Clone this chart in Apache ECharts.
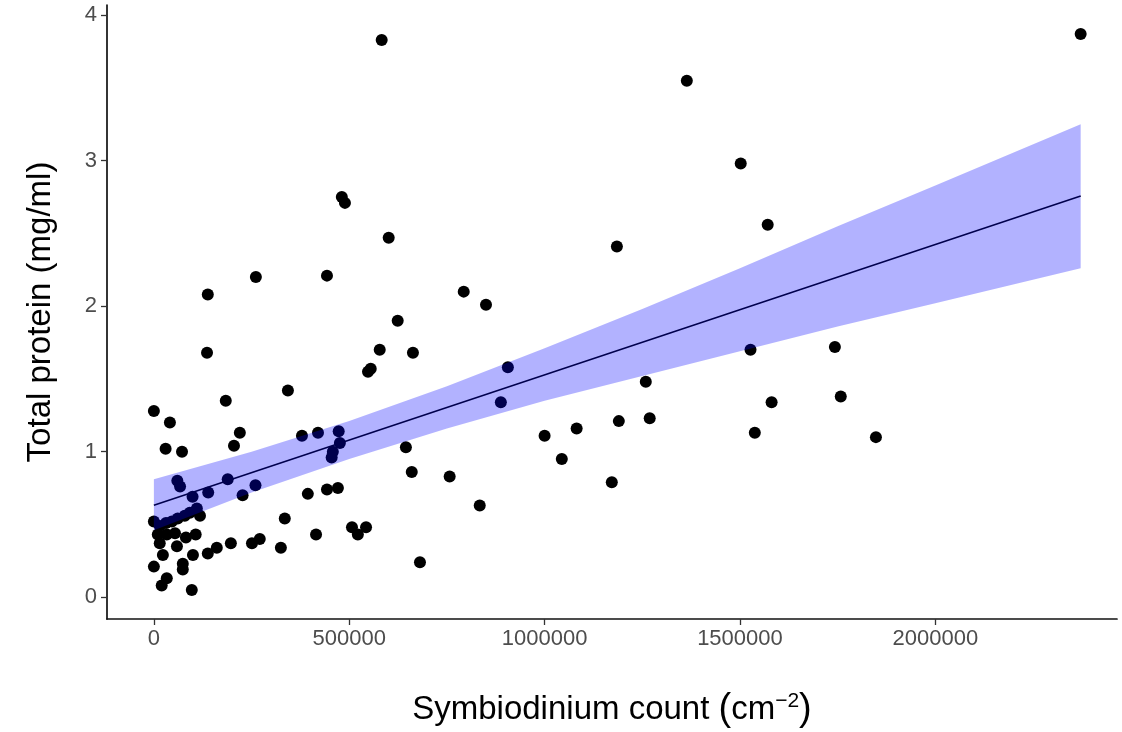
<!DOCTYPE html>
<html>
<head>
<meta charset="utf-8">
<title>Total protein vs Symbiodinium count</title>
<script src="https://cdn.jsdelivr.net/npm/echarts@6/dist/echarts.min.js"></script>
<style>
  html, body { margin: 0; padding: 0; background: #ffffff; }
  #chart { width: 1122px; height: 732px; }
</style>
</head>
<body>
<div id="chart"></div>
<script>
// Symbiodinium density (cells per cm^2) and total protein (mg/ml) per sample
const symbiodiniumCount = [
  0, 41000, 184000, 30000, 72000, 205000, 220000, 60000, 67000, 99000,
  139000, 189000, 227000, 260000, 0, 15000, 31000, 46000, 61000, 79000,
  92000, 110000, 118000, 10000, 33000, 54000, 15000, 59000, 82000, 107000,
  23000, 74000, 74000, 100000, 138000, 161000, 197000, 251000, 271000, 0,
  33000, 20000, 97000, 335000, 325000,
  138000, 136000, 261000, 443000, 601000, 481000, 489000, 583000,
  793000, 850000, 624000, 578000, 663000, 548000, 555000, 343000,
  379000, 420000, 473000, 476000, 458000, 455000, 645000, 660000, 757000, 834000, 681000,
  394000, 443000, 471000, 415000, 507000, 543000, 522000,
  906000, 888000,
  1185000, 1571000, 1527000, 1259000, 1000000, 1082000, 1044000, 1190000, 1269000, 1172000,
  1581000, 1538000, 1743000, 1758000, 1848000, 1364000, 1502000, 2372000
];
const totalProtein = [
  1.28, 1.20, 1.35, 1.02, 1.00, 1.04, 1.13, 0.80, 0.76, 0.69,
  0.72, 0.81, 0.70, 0.77, 0.52, 0.49, 0.51, 0.52, 0.54, 0.56,
  0.58, 0.61, 0.56, 0.43, 0.43, 0.44, 0.37, 0.35, 0.41, 0.43,
  0.29, 0.23, 0.19, 0.29, 0.30, 0.34, 0.37, 0.37, 0.40, 0.21,
  0.13, 0.08, 0.05, 0.54, 0.34,
  2.08, 1.68, 2.20, 2.21, 2.47, 2.75, 2.71, 3.83,
  2.10, 2.01, 1.90, 1.70, 1.68, 1.55, 1.57, 1.42,
  1.11, 1.13, 1.14, 1.06, 1.00, 0.96, 1.03, 0.86, 0.83, 0.63, 0.24,
  0.71, 0.74, 0.75, 0.43, 0.48, 0.48, 0.43,
  1.58, 1.34,
  2.41, 2.56, 1.70, 1.48, 1.11, 1.16, 0.95, 1.21, 1.23, 0.79,
  1.34, 1.13, 1.72, 1.38, 1.10, 3.55, 2.98, 3.87
];

// Linear fit (end points) and its confidence band
const fitX = [0, 2372000];
const fitY = [0.632, 2.757];
const bandX = [0, 250000, 500000, 750000, 1000000, 1250000, 1500000, 1750000, 2000000, 2372000];
const bandLower = [0.46, 0.72, 0.95, 1.16, 1.35, 1.52, 1.69, 1.86, 2.02, 2.26];
const bandUpper = [0.81, 1.00, 1.21, 1.45, 1.71, 1.98, 2.26, 2.55, 2.83, 3.25];

// Axis ticks
const xTicks = [0, 500000, 1000000, 1500000, 2000000];
const xTickLabels = ['0', '500000', '1000000', '1500000', '2000000'];
const yTicks = [0, 1, 2, 3, 4];
const yTickLabels = ['0', '1', '2', '3', '4'];

const FONT = '"Liberation Sans", Arial, Helvetica, sans-serif';

const points = symbiodiniumCount.map((c, i) => [c, totalProtein[i]]);
const fitLine = fitX.map((x, i) => [x, fitY[i]]);

const chart = echarts.init(document.getElementById('chart'), null, { renderer: 'canvas' });

const axisLineStyle = { color: '#111111', width: 1.7 };
const tickStyle = { color: '#333333', width: 1.3 };

chart.setOption({
  backgroundColor: '#ffffff',
  animation: false,
  grid: {
    left: 107, right: 5, top: 5, bottom: 113,
    containLabel: false,
    outerBoundsMode: 'none'
  },
  xAxis: {
    type: 'value',
    min: -120000,
    max: 2465000,
    splitLine: { show: false },
    axisLine: { show: true, onZero: false, lineStyle: axisLineStyle },
    axisTick: { show: true, length: 6, customValues: xTicks, lineStyle: tickStyle },
    axisLabel: {
      customValues: xTicks,
      formatter: v => xTickLabels[xTicks.indexOf(v)] ?? '',
      color: '#4d4d4d', fontSize: 22, fontFamily: FONT, margin: 9
    },
    name: 'Symbiodinium count {p|(}cm{sup|\u22122}{p|)}',
    nameLocation: 'middle',
    nameGap: 72,
    nameTextStyle: {
      color: '#000000', fontSize: 33, fontFamily: FONT,
      rich: {
        p: { fontSize: 38, fontFamily: FONT, color: '#000000' },
        sup: { fontSize: 21, fontFamily: FONT, color: '#000000', verticalAlign: 'top' }
      }
    }
  },
  yAxis: {
    type: 'value',
    min: -0.15,
    max: 4.07,
    splitLine: { show: false },
    axisLine: { show: true, onZero: false, lineStyle: axisLineStyle },
    axisTick: { show: true, length: 6, customValues: yTicks, lineStyle: tickStyle },
    axisLabel: {
      customValues: yTicks,
      formatter: v => yTickLabels[yTicks.indexOf(v)] ?? '',
      color: '#4d4d4d', fontSize: 22, fontFamily: FONT, margin: 10
    },
    name: 'Total protein (mg/ml)',
    nameLocation: 'middle',
    nameRotate: 90,
    nameGap: 50,
    nameTextStyle: { color: '#000000', fontSize: 33, fontFamily: FONT }
  },
  series: [
    {
      type: 'scatter',
      data: points,
      symbol: 'circle',
      symbolSize: 12,
      itemStyle: { color: '#000000', opacity: 1 },
      z: 1,
      silent: true
    },
    {
      type: 'line',
      data: fitLine,
      showSymbol: false,
      symbol: 'none',
      lineStyle: { color: '#000000', width: 1.6 },
      z: 2,
      silent: true
    },
    {
      type: 'custom',
      data: [[0, 0]],
      encode: { x: 0, y: 1 },
      z: 3,
      silent: true,
      renderItem: function (params, api) {
        const pts = [];
        for (let i = 0; i < bandX.length; i++) pts.push(api.coord([bandX[i], bandUpper[i]]));
        for (let i = bandX.length - 1; i >= 0; i--) pts.push(api.coord([bandX[i], bandLower[i]]));
        return {
          type: 'polygon',
          shape: { points: pts },
          style: { fill: 'rgba(0, 0, 255, 0.3)' }
        };
      }
    }
  ]
});
</script>
</body>
</html>
